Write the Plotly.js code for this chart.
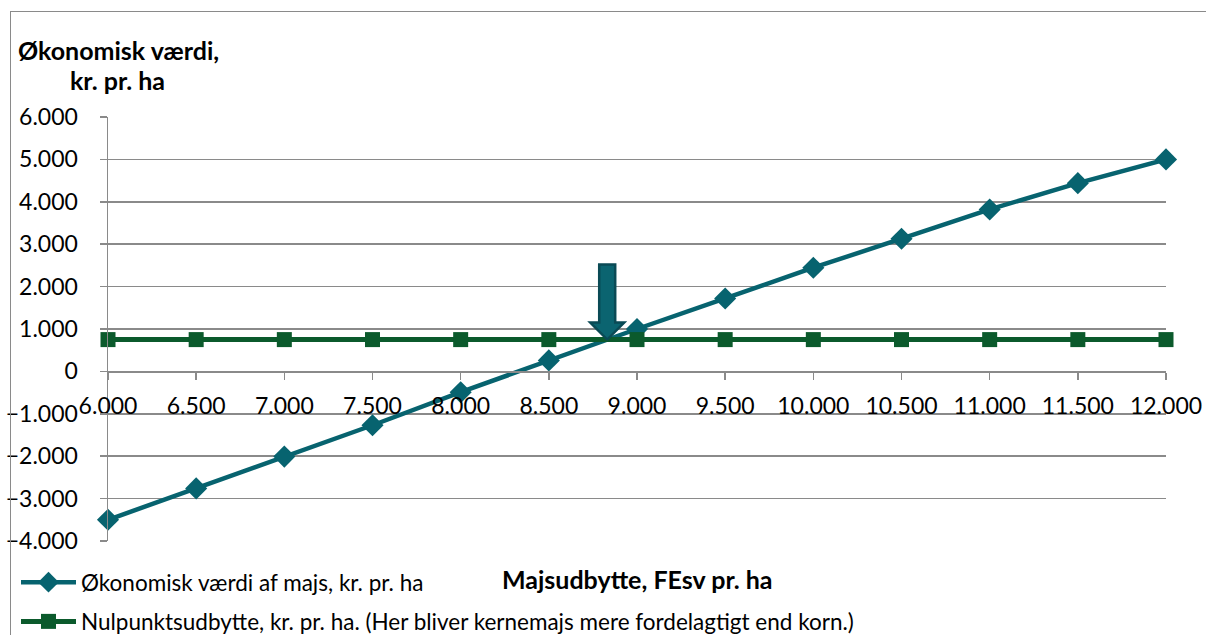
<!DOCTYPE html>
<html>
<head>
<meta charset="utf-8">
<script src="https://cdn.plot.ly/plotly-3.0.1.min.js"></script>
<style>
html,body{margin:0;padding:0;background:#fff;}
#wrap{position:relative;width:1206px;height:635px;overflow:hidden;}
#chart{width:1206px;height:635px;}
#frame{position:absolute;left:10px;top:11px;width:1300px;height:700px;border-left:1.5px solid #8a8a8a;border-top:1.5px solid #8a8a8a;pointer-events:none;}
</style>
</head>
<body>
<div id="wrap"><div id="chart"></div><div id="frame"></div></div>
<script>
// Data
const yieldFEsv = [6000, 6500, 7000, 7500, 8000, 8500, 9000, 9500, 10000, 10500, 11000, 11500, 12000];
const economicValue = [-3500, -2760, -2010, -1270, -490, 260, 1000, 1720, 2445, 3130, 3820, 4440, 5000];
const breakEven = [750, 750, 750, 750, 750, 750, 750, 750, 750, 750, 750, 750, 750];
const seriesNames = [
  'Økonomisk værdi af majs, kr. pr. ha',
  'Nulpunktsudbytte, kr. pr. ha. (Her bliver kernemajs mere fordelagtigt end korn.)'
];
const yTitleLines = ['Økonomisk værdi,', 'kr. pr. ha'];
const xTitle = 'Majsudbytte, FEsv pr. ha';

// intersection (where maize becomes advantageous) computed from data
let cross = null;
for (let i = 0; i < yieldFEsv.length - 1; i++) {
  const d0 = economicValue[i] - breakEven[i];
  const d1 = economicValue[i + 1] - breakEven[i + 1];
  if (d0 <= 0 && d1 >= 0) {
    const t = -d0 / (d1 - d0);
    cross = {
      x: yieldFEsv[i] + t * (yieldFEsv[i + 1] - yieldFEsv[i]),
      y: breakEven[i] + t * (breakEven[i + 1] - breakEven[i])
    };
    break;
  }
}

const TEAL = '#07636f';
const GREEN = '#0b5a2c';
const GRID = '#8a8a8a';
const FONT = 'Lato, "Open Sans", sans-serif';

const traces = [
  {
    x: yieldFEsv, y: economicValue, name: seriesNames[0], type: 'scatter', mode: 'lines+markers',
    line: {color: TEAL, width: 4.5}, marker: {symbol: 'diamond', size: 17, color: TEAL},
    legendgroup: 'a', cliponaxis: false
  },
  {
    x: yieldFEsv, y: breakEven, name: seriesNames[1], type: 'scatter', mode: 'lines+markers',
    line: {color: GREEN, width: 5}, marker: {symbol: 'square', size: 15, color: GREEN},
    legendgroup: 'b', cliponaxis: false
  }
];

const W = 1206, H = 635;
const M = {l: 108, r: 40, t: 117, b: 94};
const pw = W - M.l - M.r, ph = H - M.t - M.b;
const px2xp = px => (px - M.l) / pw;
const py2yp = py => (H - M.b - py) / ph;

const shapes = [];
if (cross) {
  shapes.push({
    type: 'path', xref: 'x', yref: 'y',
    xsizemode: 'pixel', ysizemode: 'pixel',
    xanchor: cross.x, yanchor: cross.y,
    path: 'M-8,75 L8,75 L8,17 L17,17 L0,0 L-17,17 L-8,17 Z',
    fillcolor: '#0b6470', line: {color: '#0a4a55', width: 2.5}, layer: 'above'
  });
}

const layout = {
  width: W, height: H,
  margin: Object.assign({pad: 0, autoexpand: false}, M),
  paper_bgcolor: '#fff', plot_bgcolor: '#fff',
  separators: ',.',
  font: {family: FONT, size: 22, color: '#000'},
  showlegend: true,
  legend: {
    x: px2xp(16), y: py2yp(561), xanchor: 'left', yanchor: 'top',
    orientation: 'v', traceorder: 'grouped', tracegroupgap: 7,
    font: {family: FONT, size: 22.5, color: '#000'},
    bgcolor: 'rgba(0,0,0,0)', itemwidth: 55, borderwidth: 0
  },
  xaxis: {
    range: [6000, 12000], dtick: 500, tick0: 6000, tickformat: ',d',
    anchor: 'free', position: (0 - (-4000)) / 10000,
    showline: true, linecolor: GRID, linewidth: 1.5,
    ticks: 'outside', ticklen: 7, tickwidth: 1.5, tickcolor: GRID,
    showgrid: false, zeroline: false,
    tickfont: {family: FONT, size: 23, color: '#000'},
    ticklabelstandoff: 6,
    fixedrange: true
  },
  yaxis: {
    range: [-4000, 6000], dtick: 1000, tick0: 0, tickformat: ',d',
    showline: true, linecolor: GRID, linewidth: 1.5,
    ticks: 'outside', ticklen: 7, tickwidth: 1.5, tickcolor: GRID,
    showgrid: true, gridcolor: GRID, gridwidth: 1.5, zeroline: false,
    tickfont: {family: FONT, size: 23, color: '#000'},
    ticklabelstandoff: 17,
    fixedrange: true
  },
  shapes: shapes,
  annotations: [
    {text: '<b>' + yTitleLines[0] + '</b>', xref: 'paper', yref: 'paper', x: px2xp(16), y: py2yp(50),
     xanchor: 'left', yanchor: 'middle', showarrow: false, font: {family: FONT, size: 25, color: '#000'}},
    {text: '<b>' + yTitleLines[1] + '</b>', xref: 'paper', yref: 'paper', x: px2xp(68), y: py2yp(80),
     xanchor: 'left', yanchor: 'middle', showarrow: false, font: {family: FONT, size: 25, color: '#000'}},
    {text: '<b>' + xTitle + '</b>', xref: 'paper', yref: 'paper', x: px2xp(637), y: py2yp(579),
     xanchor: 'center', yanchor: 'middle', showarrow: false, font: {family: FONT, size: 25, color: '#000'}}
  ]
};

Plotly.newPlot('chart', traces, layout, {displayModeBar: false, staticPlot: true});
</script>
</body>
</html>
